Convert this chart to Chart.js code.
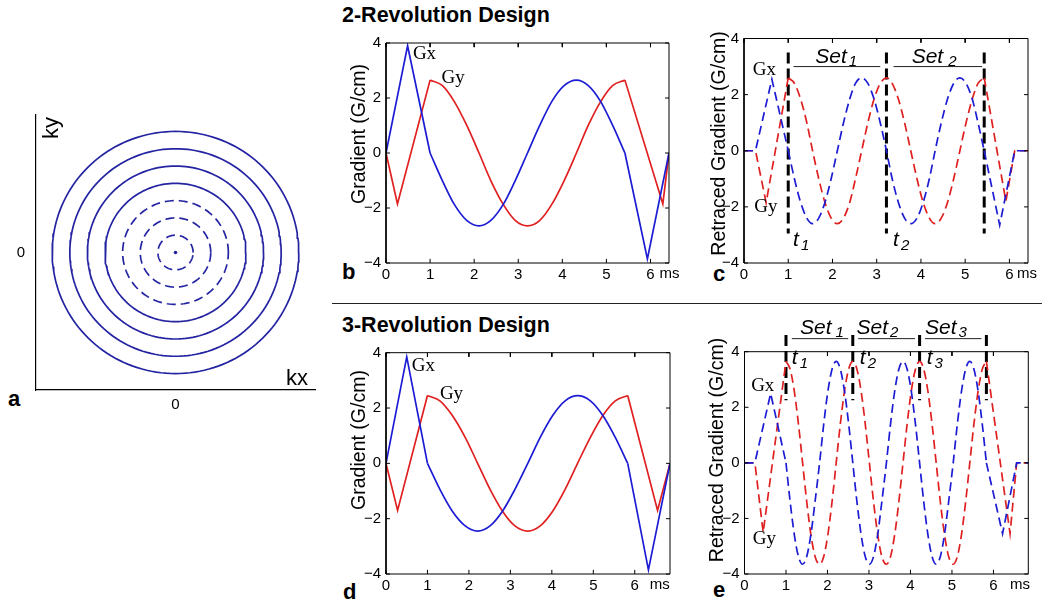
<!DOCTYPE html>
<html>
<head>
<meta charset="utf-8">
<script src="https://cdn.jsdelivr.net/npm/chart.js@4.4.1/dist/chart.umd.min.js"></script>
<style>
  body { margin: 0; background: #fff; width: 1050px; height: 616px; position: relative; overflow: hidden;
         font-family: "Liberation Sans", Arial, Helvetica, sans-serif; }
  .panel { position: absolute; }
  .title { position: absolute; font-weight: bold; font-size: 21.5px; line-height: 22px; white-space: nowrap; }
  .letter { position: absolute; font-weight: bold; font-size: 22px; line-height: 22px; }
  #sep { position: absolute; left: 332px; top: 303px; width: 710px; height: 0; border-top: 1.4px solid #222; }
</style>
</head>
<body>
<div class="title" style="left:342px;top:4px">2-Revolution Design</div>
<div class="title" style="left:342px;top:314px">3-Revolution Design</div>
<div id="sep"></div>
<div class="letter" style="left:8px;top:388px">a</div>
<div class="letter" style="left:342px;top:261px">b</div>
<div class="letter" style="left:713px;top:263px">c</div>
<div class="letter" style="left:343px;top:581px">d</div>
<div class="letter" style="left:713px;top:579px">e</div>

<div class="panel" style="left:0;top:95px"><canvas id="pa" width="330" height="330" style="width:330px;height:330px"></canvas></div>
<div class="panel" style="left:330px;top:0"><canvas id="pb" width="350" height="300" style="width:350px;height:300px"></canvas></div>
<div class="panel" style="left:680px;top:0"><canvas id="pc" width="370" height="300" style="width:370px;height:300px"></canvas></div>
<div class="panel" style="left:330px;top:300px"><canvas id="pd" width="350" height="316" style="width:350px;height:316px"></canvas></div>
<div class="panel" style="left:680px;top:300px"><canvas id="pe" width="370" height="316" style="width:370px;height:316px"></canvas></div>

<script>
// panel a: k-space rings (radius in ring units), inner three dashed
const ringRadii = [1, 2, 3, 4, 5, 6, 7];
const ringDashed = [true, true, true, false, false, false, false];

// tick values shared by the gradient panels
const gradXTicks = [0, 1, 2, 3, 4, 5, 6];
const gradYTicks = [-4, -2, 0, 2, 4];

// panel b: 2-revolution gradients, time in ms, gradient in G/cm
const bSineT = [1.00, 1.28, 1.55, 1.83, 2.11, 2.38, 2.66, 2.93, 3.21, 3.49, 3.76, 4.04, 4.32, 4.59, 4.87, 5.14, 5.42];
const bGxSine = [0, -1.01, -1.87, -2.45, -2.65, -2.45, -1.87, -1.01, 0, 1.01, 1.87, 2.45, 2.65, 2.45, 1.87, 1.01, 0];
const bGySine = [2.65, 2.45, 1.87, 1.01, 0, -1.01, -1.87, -2.45, -2.65, -2.45, -1.87, -1.01, 0, 1.01, 1.87, 2.45, 2.65];
const bGxIn = [[0, 0], [0.49, 3.9], [1.00, 0]];
const bGxOut = [[5.42, 0], [5.93, -3.85], [6.42, 0]];
const bGyIn = [[0, 0], [0.26, -1.85], [1.00, 2.65]];
const bGyOut = [[5.42, 2.65], [6.28, -1.85], [6.42, 0]];

// panel c: 2-revolution retraced gradients
const cSineT = [1.00, 1.14, 1.28, 1.42, 1.55, 1.69, 1.83, 1.97, 2.11, 2.25, 2.39, 2.52, 2.66, 2.80, 2.94, 3.08, 3.22,
                3.35, 3.49, 3.63, 3.77, 3.91, 4.05, 4.19, 4.32, 4.46, 4.60, 4.74, 4.88, 5.02, 5.16, 5.29, 5.43];
const cGxSine = [0, -1.0, -1.84, -2.4, -2.6, -2.4, -1.84, -1.0, 0, 1.0, 1.84, 2.4, 2.6, 2.4, 1.84, 1.0, 0,
                 -1.0, -1.84, -2.4, -2.6, -2.4, -1.84, -1.0, 0, 1.0, 1.84, 2.4, 2.6, 2.4, 1.84, 1.0, 0];
const cGySine = [2.6, 2.4, 1.84, 1.0, 0, -1.0, -1.84, -2.4, -2.6, -2.4, -1.84, -1.0, 0, 1.0, 1.84, 2.4, 2.6,
                 2.4, 1.84, 1.0, 0, -1.0, -1.84, -2.4, -2.6, -2.4, -1.84, -1.0, 0, 1.0, 1.84, 2.4, 2.6];
const cGxIn = [[0, 0], [0.26, 0], [0.63, 2.55], [1.00, 0]];
const cGxOut = [[5.43, 0], [5.78, -2.65], [6.12, 0], [6.42, 0]];
const cGyIn = [[0, 0], [0.26, 0], [0.50, -1.85], [1.00, 2.6]];
const cGyOut = [[5.43, 2.6], [5.92, -1.8], [6.12, 0], [6.42, 0]];
const cMarkT = [1.00, 3.22, 5.43];
const cMarkSpan = [3.5, -2.95];
const cSetBars = [[1.12, 3.08], [3.38, 5.38]];
const cSetY = 3.0;

// panel d: 3-revolution gradients
const dSineT = [1.00, 1.30, 1.60, 1.91, 2.21, 2.51, 2.81, 3.11, 3.42, 3.72, 4.02, 4.32, 4.62, 4.93, 5.23, 5.53, 5.83];
const dGxSine = [0, -0.94, -1.73, -2.26, -2.45, -2.26, -1.73, -0.94, 0, 0.94, 1.73, 2.26, 2.45, 2.26, 1.73, 0.94, 0];
const dGySine = [2.45, 2.26, 1.73, 0.94, 0, -0.94, -1.73, -2.26, -2.45, -2.26, -1.73, -0.94, 0, 0.94, 1.73, 2.26, 2.45];
const dGxIn = [[0, 0], [0.50, 3.85], [1.00, 0]];
const dGxOut = [[5.83, 0], [6.33, -3.85], [6.85, 0]];
const dGyIn = [[0, 0], [0.28, -1.7], [1.00, 2.45]];
const dGyOut = [[5.83, 2.45], [6.55, -1.7], [6.85, 0]];

// panel e: 3-revolution retraced gradients
const eSineT = [1.00, 1.10, 1.20, 1.30, 1.40, 1.50, 1.60, 1.70, 1.81, 1.91, 2.01, 2.11, 2.21, 2.31, 2.41, 2.51,
                2.61, 2.71, 2.81, 2.91, 3.01, 3.11, 3.21, 3.31, 3.42, 3.52, 3.62, 3.72, 3.82, 3.92, 4.02, 4.12,
                4.22, 4.32, 4.42, 4.52, 4.62, 4.72, 4.82, 4.92, 5.03, 5.13, 5.23, 5.33, 5.43, 5.53, 5.63, 5.73, 5.83];
const eGxSine = [0, -1.40, -2.58, -3.37, -3.65, -3.37, -2.58, -1.40, 0, 1.40, 2.58, 3.37, 3.65, 3.37, 2.58, 1.40,
                 0, -1.40, -2.58, -3.37, -3.65, -3.37, -2.58, -1.40, 0, 1.40, 2.58, 3.37, 3.65, 3.37, 2.58, 1.40,
                 0, -1.40, -2.58, -3.37, -3.65, -3.37, -2.58, -1.40, 0, 1.40, 2.58, 3.37, 3.65, 3.37, 2.58, 1.40, 0];
const eGySine = [3.65, 3.37, 2.58, 1.40, 0, -1.40, -2.58, -3.37, -3.65, -3.37, -2.58, -1.40, 0, 1.40, 2.58, 3.37,
                 3.65, 3.37, 2.58, 1.40, 0, -1.40, -2.58, -3.37, -3.65, -3.37, -2.58, -1.40, 0, 1.40, 2.58, 3.37,
                 3.65, 3.37, 2.58, 1.40, 0, -1.40, -2.58, -3.37, -3.65, -3.37, -2.58, -1.40, 0, 1.40, 2.58, 3.37, 3.65];
const eGxIn = [[0, 0], [0.25, 0], [0.63, 2.5], [1.00, 0]];
const eGxOut = [[5.83, 0], [6.22, -2.55], [6.56, 0], [6.84, 0]];
const eGyIn = [[0, 0], [0.25, 0], [0.45, -2.5], [1.00, 3.65]];
const eGyOut = [[5.83, 3.65], [6.40, -2.55], [6.56, 0], [6.84, 0]];
const eMarkT = [1.00, 2.61, 4.22, 5.83];
const eMarkSpan = [4.6, 2.25];
const eSetBars = [[1.14, 2.50], [2.74, 4.11], [4.35, 5.71]];
const eSetY = 4.47;

Chart.defaults.font.family = '"Liberation Sans", Arial, Helvetica, sans-serif';
Chart.defaults.font.size = 15;
Chart.defaults.color = '#000';
Chart.defaults.animation = false;
Chart.defaults.plugins.legend.display = false;
Chart.defaults.plugins.tooltip.enabled = false;

const BLUE = '#1c1cd4';
const RED = '#e02020';
const RING = '#2424a2';
const SERIF = '19px "Liberation Serif", "Times New Roman", serif';
const ITAL = 'italic 21px "Liberation Sans", Arial, sans-serif';
const ITAL_SUB = 'italic 15px "Liberation Sans", Arial, sans-serif';
const AXIS = '19.5px "Liberation Sans", Arial, sans-serif';
const SANS = '22px "Liberation Sans", Arial, sans-serif';
const TICK = '15px "Liberation Sans", Arial, sans-serif';

function pts(t, v) { return t.map((x, i) => ({ x: x, y: v[i] })); }
function pairs(p) { return p.map(q => ({ x: q[0], y: q[1] })); }

function ringPoints(r) {
    const out = [];
    for (let i = 0; i <= 160; i++) {
        const a = i / 160 * Math.PI * 2;
        out.push({ x: r * Math.cos(a), y: r * Math.sin(a) });
    }
    return out;
}

// in-plot text labels and axis titles
function notesPlugin(items) {
    return {
        id: 'notes',
        afterDraw(chart) {
            const { ctx, chartArea: a, scales: { x, y } } = chart;
            ctx.save();
            ctx.fillStyle = '#000';
            items.forEach(n => {
                let px, py;
                if (n.px !== undefined) { px = n.px; py = n.py; }
                else if (n.xTick !== undefined) { px = x.getPixelForValue(n.xTick) + n.dx; py = a.bottom + n.dy; }
                else { px = x.getPixelForValue(n.x); py = y.getPixelForValue(n.y); }
                ctx.save();
                ctx.translate(px, py);
                if (n.rotate) ctx.rotate(n.rotate);
                ctx.font = n.font;
                ctx.textAlign = n.align || 'left';
                ctx.textBaseline = n.baseline || 'alphabetic';
                ctx.fillText(n.text, 0, 0);
                if (n.sub) {
                    const w = ctx.measureText(n.text).width;
                    ctx.font = ITAL_SUB;
                    ctx.fillText(n.sub, w + (n.subDx || 1), n.subDy || 3);
                }
                ctx.restore();
            });
            ctx.restore();
        }
    };
}

// plot box and inward tick marks, drawn through the scales as thin black lines
function frameSets(xMax) {
    const line = data => ({ showLine: true, pointRadius: 0, borderColor: '#000', borderWidth: 1, clip: false, data: data });
    const sets = [line([{ x: 0, y: -4 }, { x: xMax, y: -4 }, { x: xMax, y: 4 }, { x: 0, y: 4 }, { x: 0, y: -4 }])];
    const dy = 0.15;
    const dx = xMax * 0.014;
    gradXTicks.forEach(t => {
        sets.push(line([{ x: t, y: -4 }, { x: t, y: -4 + dy }]));
        sets.push(line([{ x: t, y: 4 }, { x: t, y: 4 - dy }]));
    });
    gradYTicks.forEach(v => {
        sets.push(line([{ x: 0, y: v }, { x: dx, y: v }]));
        sets.push(line([{ x: xMax, y: v }, { x: xMax - dx, y: v }]));
    });
    return sets;
}

function gradientSets(sineT, gxSine, gySine, gxIn, gxOut, gyIn, gyOut, dash) {
    const base = { showLine: true, pointRadius: 0, borderWidth: 1.7, borderDash: dash, fill: false, tension: 0 };
    const smooth = { cubicInterpolationMode: 'monotone', tension: 0.4 };
    return [
        { ...base, data: pairs(gxIn), borderColor: BLUE },
        { ...base, ...smooth, data: pts(sineT, gxSine), borderColor: BLUE },
        { ...base, data: pairs(gxOut), borderColor: BLUE },
        { ...base, data: pairs(gyIn), borderColor: RED },
        { ...base, ...smooth, data: pts(sineT, gySine), borderColor: RED },
        { ...base, data: pairs(gyOut), borderColor: RED }
    ];
}

function markerSets(markT, span, bars, barY) {
    const sets = [];
    markT.forEach(t => {
        sets.push({ showLine: true, pointRadius: 0, borderColor: '#000', borderWidth: 3, borderDash: [11, 5],
                    clip: false, data: [{ x: t, y: span[0] }, { x: t, y: span[1] }] });
    });
    bars.forEach(b => {
        sets.push({ showLine: true, pointRadius: 0, borderColor: '#222', borderWidth: 1,
                    clip: false, data: [{ x: b[0], y: barY }, { x: b[1], y: barY }] });
    });
    return sets;
}

function gradScales(xMax, yWidth, xHeight) {
    return {
        x: {
            type: 'linear', min: 0, max: xMax,
            grid: { display: false, drawTicks: false }, border: { display: false },
            ticks: { stepSize: 1, includeBounds: false, padding: 3, maxRotation: 0, autoSkip: false, font: { size: 15 } },
            afterFit: s => { s.height = xHeight; }
        },
        y: {
            type: 'linear', min: -4, max: 4,
            grid: { display: false, drawTicks: false }, border: { display: false },
            ticks: { stepSize: 2, padding: 5, font: { size: 15 },
                     callback: v => v < 0 ? '\u2212' + Math.abs(v) : String(v) },
            afterFit: s => { s.width = yWidth; }
        }
    };
}

function drawGradient(id, datasets, xMax, padding, yWidth, xHeight, items) {
    new Chart(document.getElementById(id), {
        type: 'scatter',
        data: { datasets: frameSets(xMax).concat(datasets) },
        options: {
            responsive: false,
            layout: { padding: padding },
            scales: gradScales(xMax, yWidth, xHeight)
        },
        plugins: [notesPlugin(items)]
    });
}

// panel a
const ringSets = ringRadii.map((r, i) => ({
    showLine: true, pointRadius: 0, borderColor: RING, borderWidth: 1.7,
    borderDash: ringDashed[i] ? [9, 5] : [], data: ringPoints(r)
}));
ringSets.push({ pointRadius: 1.8, pointBackgroundColor: RING, pointBorderWidth: 0, data: [{ x: 0, y: 0 }] });

new Chart(document.getElementById('pa'), {
    type: 'scatter',
    data: { datasets: ringSets },
    options: {
        responsive: false,
        layout: { padding: { left: 0, top: 15, right: 15, bottom: 0 } },
        scales: {
            x: {
                type: 'linear', min: -7.92, max: 7.92,
                afterBuildTicks: s => { s.ticks = [{ value: 0 }]; },
                grid: { display: false, drawTicks: false }, border: { display: true, color: '#000', width: 1.2 },
                ticks: { padding: 6, font: { size: 15 } },
                afterFit: s => { s.height = 35; }
            },
            y: {
                type: 'linear', min: -7.95, max: 7.95,
                afterBuildTicks: s => { s.ticks = [{ value: 0 }]; },
                grid: { display: false, drawTicks: false }, border: { display: true, color: '#000', width: 1.2 },
                ticks: { padding: 11, font: { size: 15 } },
                afterFit: s => { s.width = 36; }
            }
        }
    },
    plugins: [notesPlugin([
        { x: -7.0, y: 7.2, text: 'ky', font: SANS, align: 'center', baseline: 'middle', rotate: -Math.PI / 2 },
        { x: 6.9, y: -7.3, text: 'kx', font: SANS, align: 'center', baseline: 'middle' }
    ])]
});

// panel b
drawGradient('pb', gradientSets(bSineT, bGxSine, bGySine, bGxIn, bGxOut, bGyIn, bGyOut, []), 6.42,
    { left: 15, top: 43, right: 11, bottom: 0 }, 41, 37, [
        { x: 0.61, y: 3.61, text: 'Gx', font: SERIF, baseline: 'middle' },
        { x: 1.26, y: 2.74, text: 'Gy', font: SERIF, baseline: 'middle' },
        { px: 30, py: 134, text: 'Gradient (G/cm)', font: AXIS, align: 'center', baseline: 'middle', rotate: -Math.PI / 2 },
        { xTick: 6, dx: 9, dy: 3, text: 'ms', font: TICK, baseline: 'top' }
    ]);

// panel c
drawGradient('pc', gradientSets(cSineT, cGxSine, cGySine, cGxIn, cGxOut, cGyIn, cGyOut, [9, 5])
        .concat(markerSets(cMarkT, cMarkSpan, cSetBars, cSetY)), 6.42,
    { left: 25, top: 38.5, right: 22, bottom: 0 }, 39, 37, [
        { x: 0.2, y: 2.88, text: 'Gx', font: SERIF, baseline: 'middle' },
        { x: 0.23, y: -2.02, text: 'Gy', font: SERIF, baseline: 'middle' },
        { x: 1.61, y: 3.12, text: 'Set', font: ITAL, sub: '1', subDx: 2 },
        { x: 3.79, y: 3.12, text: 'Set', font: ITAL, sub: '2', subDx: 5 },
        { x: 1.11, y: -3.41, text: 't', font: ITAL, sub: '1', subDx: 2, subDy: 4 },
        { x: 3.37, y: -3.41, text: 't', font: ITAL, sub: '2', subDx: 2, subDy: 4 },
        { px: 40, py: 143.5, text: 'Retraced Gradient (G/cm)', font: AXIS, align: 'center', baseline: 'middle', rotate: -Math.PI / 2 },
        { xTick: 6, dx: 7.5, dy: 3, text: 'ms', font: TICK, baseline: 'top' }
    ]);

// panel d
drawGradient('pd', gradientSets(dSineT, dGxSine, dGySine, dGxIn, dGxOut, dGyIn, dGyOut, []), 6.85,
    { left: 15, top: 52.7, right: 10, bottom: 0 }, 41, 42, [
        { x: 0.62, y: 3.51, text: 'Gx', font: SERIF, baseline: 'middle' },
        { x: 1.30, y: 2.50, text: 'Gy', font: SERIF, baseline: 'middle' },
        { px: 30, py: 140, text: 'Gradient (G/cm)', font: AXIS, align: 'center', baseline: 'middle', rotate: -Math.PI / 2 },
        { xTick: 6, dx: 15, dy: 3, text: 'ms', font: TICK, baseline: 'top' }
    ]);

// panel e
drawGradient('pe', gradientSets(eSineT, eGxSine, eGySine, eGxIn, eGxOut, eGyIn, eGyOut, [9, 5])
        .concat(markerSets(eMarkT, eMarkSpan, eSetBars, eSetY)), 6.84,
    { left: 23, top: 51.7, right: 21.7, bottom: 0 }, 41.5, 42, [
        { x: 0.16, y: 2.75, text: 'Gx', font: SERIF, baseline: 'middle' },
        { x: 0.20, y: -2.73, text: 'Gy', font: SERIF, baseline: 'middle' },
        { x: 1.34, y: 4.62, text: 'Set', font: ITAL, sub: '1', subDx: 4 },
        { x: 2.70, y: 4.62, text: 'Set', font: ITAL, sub: '2', subDx: 2 },
        { x: 4.35, y: 4.62, text: 'Set', font: ITAL, sub: '3', subDx: 2 },
        { x: 1.14, y: 3.54, text: 't', font: ITAL, sub: '1', subDx: 2, subDy: 4 },
        { x: 2.78, y: 3.54, text: 't', font: ITAL, sub: '2', subDx: 2, subDy: 4 },
        { x: 4.39, y: 3.54, text: 't', font: ITAL, sub: '3', subDx: 2, subDy: 4 },
        { px: 38, py: 150, text: 'Retraced Gradient (G/cm)', font: AXIS, align: 'center', baseline: 'middle', rotate: -Math.PI / 2 },
        { xTick: 6, dx: 16.5, dy: 3, text: 'ms', font: TICK, baseline: 'top' }
    ]);
</script>
</body>
</html>
